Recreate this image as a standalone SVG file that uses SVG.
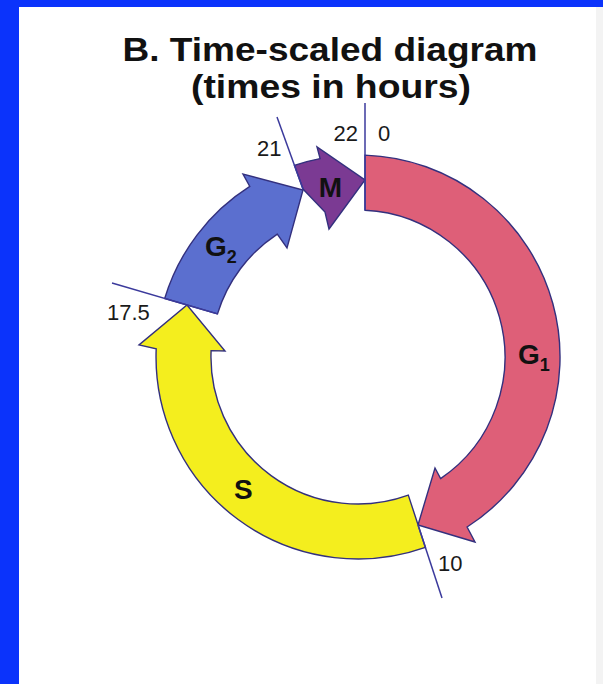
<svg xmlns="http://www.w3.org/2000/svg" width="603" height="684" viewBox="0 0 603 684">
<style>
.seg{stroke:#33307e;stroke-width:1.4;stroke-linejoin:miter}
.tick{stroke:#3b3a9c;stroke-width:1.5;fill:none}
.num{font-family:"Liberation Sans",Arial,sans-serif;font-size:22px;fill:#1a1a1a}
.lab{font-family:"Liberation Sans",Arial,sans-serif;font-size:28px;font-weight:bold;fill:#111}
.title{font-family:"Liberation Sans",Arial,sans-serif;font-size:33px;font-weight:bold;fill:#111;text-anchor:middle}
</style>
<g id="background">
<rect x="0" y="0" width="603" height="684" fill="#0b33fb"/>
<rect x="19" y="7" width="584" height="677" fill="#ffffff"/>
<rect x="596" y="7" width="7" height="677" fill="#f3f3f3"/>
</g>
<g id="title">
<text class="title" x="330" y="61" textLength="415" lengthAdjust="spacingAndGlyphs">B. Time-scaled diagram</text>
<text class="title" x="331" y="98" textLength="280" lengthAdjust="spacingAndGlyphs">(times in hours)</text>
</g>
<g id="node-G1">
<path class="seg" fill="#de5f78" d="M365,155.1 A202,202 0 0 1 467.1,527 L475,542 L418,525 L435,468 L440.6,478.6 A147,147 0 0 0 365,210.2 Z"/>
<text class="lab" x="518" y="364">G<tspan font-size="18" dy="7">1</tspan></text>
</g>
<g id="node-S">
<path class="seg" fill="#f4ee1e" d="M408.3,495.1 L425.4,547.4 A202,202 0 0 1 156.2,348.9 L139,345 L187,305 L225,351 L211.1,350.6 A147,147 0 0 0 408.3,495.1 Z"/>
<text class="lab" x="234" y="499">S</text>
</g>
<g id="node-G2">
<path class="seg" fill="#5b6fcf" d="M164.7,298.5 A202,202 0 0 1 249.8,186.4 L243,174 L303,190 L287,248 L277.3,234.1 A147,147 0 0 0 217.5,313.9 Z"/>
<text class="lab" x="205" y="256">G<tspan font-size="18" dy="7">2</tspan></text>
</g>
<g id="node-M">
<path class="seg" fill="#7b3a93" d="M294.4,165.3 A202,202 0 0 1 320.1,158.6 L317,147 L365,180 L329,229 L325,212 L303,189 Z"/>
<text class="lab" x="330.5" y="197" text-anchor="middle">M</text>
</g>
<g id="connectors">
<line class="tick" x1="365" y1="103" x2="365" y2="210.2"/>
<line class="tick" x1="277" y1="117" x2="303" y2="189"/>
<line class="tick" x1="112" y1="283" x2="217.5" y2="313.9"/>
<line class="tick" x1="418" y1="525" x2="442" y2="598"/>
</g>
<g id="labels">
<text class="num" x="358" y="141" text-anchor="end">22</text>
<text class="num" x="378" y="141">0</text>
<text class="num" x="257" y="156">21</text>
<text class="num" x="107" y="320">17.5</text>
<text class="num" x="438" y="571">10</text>
</g>
</svg>
